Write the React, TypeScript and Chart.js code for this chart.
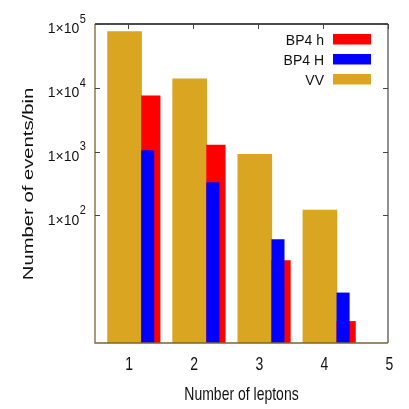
import React, { useEffect, useRef } from "react";
import { Chart, registerables } from "chart.js";

Chart.register(...registerables);

// ---- data ----
const categories = [1, 2, 3, 4];
const bp4hValues = [7500, 1270, 19.6, 2.18];
const bp4HValues = [1040, 328, 41.7, 6.1];
const vvValues = [76000, 13800, 910, 121];
const seriesLabels = ["BP4 h", "BP4 H", "VV"];
const seriesColors = ["#ff0000", "#0000ff", "#daa520"];
const xTickValues = [1, 2, 3, 4, 5];
const yTickExponents = [2, 3, 4, 5];
const xTitle = "Number of leptons";
const yTitle = "Number of events/bin";

const FONT = '"Liberation Sans", Arial, sans-serif';
const font = (px: number) => `${px}px ${FONT}`;

function drawText(
  ctx: CanvasRenderingContext2D,
  text: string,
  x: number,
  y: number,
  px: number,
  sx: number,
  sy: number,
  align: CanvasTextAlign
) {
  ctx.save();
  ctx.translate(x, y);
  ctx.scale(sx, sy);
  ctx.font = font(px);
  ctx.textAlign = align;
  ctx.textBaseline = "alphabetic";
  ctx.fillStyle = "#111";
  ctx.fillText(text, 0, 0);
  ctx.restore();
}

const decorPlugin = {
  id: "gnuplotDecor",
  afterDatasetsDraw(chart: any) {
    const ctx: CanvasRenderingContext2D = chart.ctx;
    const { left, right, top, bottom } = chart.chartArea;
    const xs = chart.scales.x;
    const ys = chart.scales.y;
    ctx.save();
    // frame
    ctx.lineWidth = 1.3;
    ctx.strokeStyle = "#111";
    ctx.beginPath();
    ctx.moveTo(left, top);
    ctx.lineTo(right, top);
    ctx.stroke();
    ctx.strokeStyle = "#555";
    ctx.beginPath();
    ctx.moveTo(right, top);
    ctx.lineTo(right, bottom);
    ctx.stroke();
    ctx.strokeStyle = "#7a6530";
    ctx.beginPath();
    ctx.moveTo(left, top);
    ctx.lineTo(left, bottom);
    ctx.lineTo(right, bottom);
    ctx.stroke();
    // tick marks
    ctx.strokeStyle = "#444";
    ctx.lineWidth = 1;
    for (const e of yTickExponents) {
      const py = Math.round(ys.getPixelForValue(Math.pow(10, e))) + 0.5;
      ctx.beginPath();
      ctx.moveTo(left, py);
      ctx.lineTo(left + 5, py);
      ctx.moveTo(right, py);
      ctx.lineTo(right - 5, py);
      ctx.stroke();
    }
    for (const v of xTickValues) {
      const px = Math.round(xs.getPixelForValue(v)) + 0.5;
      ctx.beginPath();
      ctx.moveTo(px, top);
      ctx.lineTo(px, top + 5);
      ctx.stroke();
    }
    // y tick labels
    for (const e of yTickExponents) {
      const py = ys.getPixelForValue(Math.pow(10, e));
      drawText(ctx, "1\u00d710", 79.3, py + 9.3, 14, 1, 1.1, "right");
      drawText(ctx, String(e), 79.8, py - 1.3, 11, 1, 1.2, "left");
    }
    // x tick labels
    for (const v of xTickValues) {
      const px = xs.getPixelForValue(v);
      drawText(ctx, String(v), px + 1.5, 370, 14, 1, 1.3, "center");
    }
    // x title
    drawText(ctx, xTitle, (left + right) / 2, 400, 14, 1, 1.3, "center");
    // y title
    ctx.save();
    ctx.translate(33.3, 184);
    ctx.rotate(-Math.PI / 2);
    ctx.scale(1.35, 1);
    ctx.font = font(15);
    ctx.textAlign = "center";
    ctx.textBaseline = "alphabetic";
    ctx.fillStyle = "#111";
    ctx.fillText(yTitle, 0, 0);
    ctx.restore();
    // legend
    chart.data.datasets.forEach((ds: any, i: number) => {
      drawText(ctx, ds.label, 324, 45 + 20 * i, 14, 1, 1.1, "right");
      ctx.fillStyle = ds.backgroundColor;
      ctx.fillRect(333, 34 + 20 * i, 38, 10.5);
    });
    ctx.restore();
  },
};

export default function App() {
  const canvasRef = useRef<HTMLCanvasElement | null>(null);

  useEffect(() => {
    if (!canvasRef.current) return;
    const offsets = [0.357, 0.31, -0.046];
    const thickness = [18.6, 12.4, 34];
    const orders = [2, 1, 3];
    const valueSets = [bp4hValues, bp4HValues, vvValues];
    const datasets = seriesLabels.map((label, s) => ({
      label,
      data: categories.map((c, i) => ({ x: c + offsets[s], y: valueSets[s][i] })),
      backgroundColor: seriesColors[s],
      borderWidth: 0,
      barThickness: thickness[s],
      grouped: false,
      order: orders[s],
    }));
    const chart = new Chart(canvasRef.current, {
      type: "bar",
      data: { datasets } as any,
      options: {
        responsive: false,
        animation: false,
        devicePixelRatio: 1,
        layout: { padding: { left: 95, top: 24, right: 21, bottom: 66 } },
        plugins: { legend: { display: false }, tooltip: { enabled: false } },
        scales: {
          x: {
            type: "linear",
            min: 0.5,
            max: 5,
            offset: false,
            display: false,
            grid: { offset: false },
          },
          y: {
            type: "logarithmic",
            min: 1,
            max: 100000,
            display: false,
          },
        },
      } as any,
      plugins: [decorPlugin],
    });
    return () => chart.destroy();
  }, []);

  return (
    <div style={{ position: "absolute", left: 0, top: 0, width: 409, height: 409, background: "#fff" }}>
      <canvas ref={canvasRef} width={409} height={409} style={{ display: "block" }} />
    </div>
  );
}
